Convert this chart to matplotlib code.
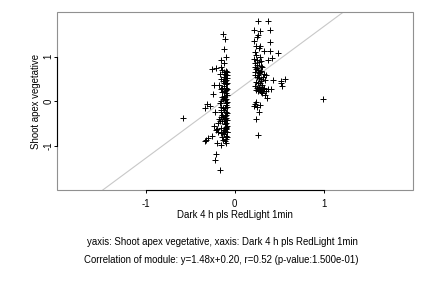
import matplotlib
matplotlib.use("Agg")
import matplotlib.pyplot as plt
from matplotlib.patches import Rectangle

plt.rcParams["font.family"] = ["Liberation Sans", "DejaVu Sans"]
plt.rcParams["axes.unicode_minus"] = False

# left cluster (around x = -0.1)
xa = [-0.13, -0.11, -0.12, -0.10, -0.16, -0.12, -0.26, -0.21, -0.16, -0.10,
      -0.09, -0.11, -0.10, -0.12, -0.09, -0.10, -0.11, -0.09, -0.10, -0.12,
      -0.10, -0.09, -0.11, -0.10, -0.09, -0.12, -0.10, -0.11, -0.09, -0.10,
      -0.10, -0.09, -0.11, -0.12, -0.10, -0.09, -0.10, -0.11, -0.10, -0.09,
      -0.12, -0.10, -0.11, -0.09, -0.10, -0.10, -0.11, -0.09, -0.12, -0.10,
      -0.09, -0.10, -0.11, -0.10, -0.09, -0.12, -0.10, -0.11, -0.10, -0.09,
      -0.23, -0.18, -0.24, -0.15, -0.14, -0.17, -0.33, -0.31, -0.28, -0.22,
      -0.19, -0.14, -0.15, -0.23, -0.20, -0.21, -0.16, -0.32, -0.33, -0.30,
      -0.26, -0.20, -0.16, -0.13, -0.21, -0.22, -0.17, -0.14, -0.13, -0.15,
      -0.13, -0.14, -0.12, -0.16, -0.17, -0.15, -0.14, -0.13, -0.12, -0.14,
      -0.18, -0.17, -0.15, -0.13, -0.14, -0.16, -0.12, -0.13, -0.19, -0.15]
ya = [1.51, 1.39, 1.18, 0.99, 0.92, 0.86, 0.72, 0.74, 0.77, 0.69,
      0.65, 0.62, 0.58, 0.55, 0.52, 0.48, 0.45, 0.42, 0.38, 0.34,
      0.30, 0.27, 0.22, 0.18, 0.14, 0.10, 0.06, 0.02, -0.02, -0.05,
      -0.09, -0.13, -0.16, -0.20, -0.24, -0.27, -0.31, -0.34, -0.38, -0.42,
      -0.45, -0.49, -0.52, -0.56, -0.60, -0.63, -0.67, -0.70, -0.74, -0.78,
      -0.81, -0.85, -0.89, -0.93, 0.60, 0.40, 0.25, -0.40, -0.58, -0.70,
      0.36, 0.36, 0.16, 0.50, 0.20, 0.62, -0.16, -0.07, -0.10, -0.25,
      -0.50, -0.30, -0.60, -0.55, -0.62, -0.65, -0.72, -0.87, -0.90, -0.82,
      -0.78, -0.95, -0.98, -0.88, -1.19, -1.32, -1.54, -0.45, -0.35, -0.20,
      0.05, 0.10, 0.12, -0.12, -0.05, 0.00, 0.30, 0.45, 0.66, 0.70,
      -0.40, -0.45, -0.25, -0.70, -0.80, -0.35, -0.65, -0.15, -0.70, 0.28]

# right cluster (around x = 0.28)
xb = [0.26, 0.37, 0.22, 0.28, 0.40, 0.26, 0.22, 0.40, 0.24, 0.28,
      0.23, 0.33, 0.40, 0.49, 0.22, 0.25, 0.37, 0.42, 0.23, 0.25,
      0.27, 0.29, 0.31, 0.24, 0.26, 0.28, 0.30, 0.33, 0.35, 0.23,
      0.25, 0.27, 0.29, 0.32, 0.34, 0.24, 0.26, 0.28, 0.31, 0.23,
      0.25, 0.27, 0.30, 0.33, 0.24, 0.26, 0.28, 0.32, 0.35, 0.23,
      0.25, 0.27, 0.29, 0.43, 0.52, 0.56, 0.52, 0.53, 0.33, 0.37,
      0.41, 0.34, 0.36, 0.23, 0.25, 0.22, 0.27, 0.24, 0.26, 0.28,
      0.24, 0.27, 0.29, 0.25, 0.23, 0.26, 0.30, 0.31, 0.24, 0.28]
yb = [1.81, 1.81, 1.61, 1.57, 1.61, 1.48, 1.36, 1.34, 1.25, 1.25,
      1.10, 1.13, 1.12, 1.08, 0.95, 0.92, 0.93, 0.97, 0.85, 0.82,
      0.88, 0.80, 0.76, 0.72, 0.70, 0.66, 0.68, 0.62, 0.58, 0.60,
      0.55, 0.52, 0.50, 0.54, 0.47, 0.44, 0.40, 0.42, 0.37, 0.34,
      0.30, 0.32, 0.27, 0.30, 0.25, 0.22, 0.26, 0.28, 0.24, 0.78,
      0.75, 0.64, 0.45, 0.47, 0.45, 0.51, 0.40, 0.35, 0.28, 0.28,
      0.28, 0.13, 0.08, -0.07, -0.13, -0.10, -0.24, -0.40, -0.76, 1.00,
      1.05, 1.20, 0.90, 1.45, 0.65, 0.58, 0.20, 0.18, -0.02, -0.08]

# stray points
xo = [-0.58, 0.99]
yo = [-0.37, 0.045]

slope = 1.48
intercept = 0.20
x_name = "Dark 4 h pls RedLight 1min"
y_name = "Shoot apex vegetative"

fig = plt.figure(figsize=(4.32, 2.88), dpi=100)
ax = fig.add_axes([0.132, 0.34, 0.823, 0.617])

ax.plot(xa + xb + xo, ya + yb + yo, "+", color="black", markersize=4, markeredgewidth=0.7)

ax.axline((0, intercept), slope=slope, color="#c8c8c8", linewidth=0.8, zorder=0)

ax.set_xlim(-2, 2)
ax.set_ylim(-2, 2)
ax.set_xticks([-1, 0, 1])
ax.set_yticks([-1, 0, 1])
ax.tick_params(labelsize=6.9, length=2.5, width=0.7)
ax.tick_params(axis="x", pad=4)
ax.tick_params(axis="y", pad=0)
plt.setp(ax.get_yticklabels(), rotation=90, va="center")

for side in ["top", "right"]:
    ax.spines[side].set_visible(False)
for side in ["left", "bottom"]:
    ax.spines[side].set_bounds(-1, 1)
    ax.spines[side].set_linewidth(0.8)
ax.add_patch(Rectangle((0, 0), 1, 1, transform=ax.transAxes, fill=False,
                       edgecolor="#909090", linewidth=0.8, clip_on=False))

ax.set_xlabel(x_name, fontsize=6.9, labelpad=1)
ax.set_ylabel(y_name, fontsize=6.9, labelpad=2)

fig.text(0.515, 0.161, f"yaxis: {y_name}, xaxis: {x_name}", fontsize=6.9, ha="center", va="center")
fig.text(0.513, 0.097, f"Correlation of module: y={slope:.2f}x+{intercept:.2f}, r=0.52 (p-value:1.500e-01)",
         fontsize=6.9, ha="center", va="center")

fig.savefig("out.png", dpi=100)
